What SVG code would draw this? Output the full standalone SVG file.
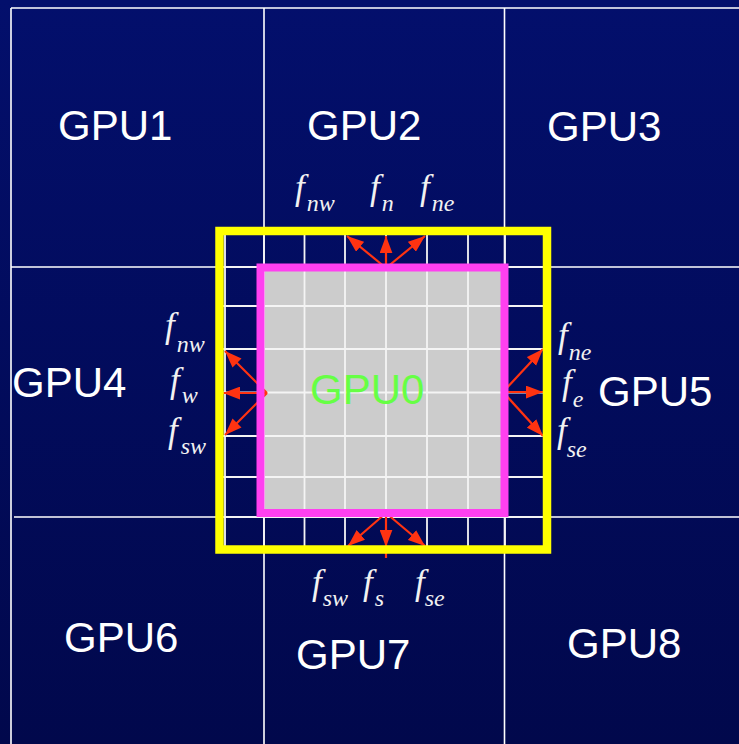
<svg xmlns="http://www.w3.org/2000/svg" width="739" height="744" viewBox="0 0 739 744">
<defs>
  <linearGradient id="bg" x1="0" y1="0" x2="0" y2="1">
    <stop offset="0" stop-color="#030f6c"/>
    <stop offset="1" stop-color="#01084c"/>
  </linearGradient>
  <marker id="ah" viewBox="0 0 16 12" refX="16" refY="6" markerWidth="17" markerHeight="13" markerUnits="userSpaceOnUse" orient="auto">
    <path d="M0,0 L16,6 L0,12 Z" fill="#ff3311"/>
  </marker>
  <style>
    .div{stroke:#ffffff;stroke-width:1.6;fill:none}
    .grid{stroke:#f4f4f4;stroke-width:1.8;fill:none}
    .arr{stroke:#ff3311;stroke-width:2.2;fill:none;marker-end:url(#ah)}
    .tail{stroke:#ff3311;stroke-width:2.2;fill:none}
    .gpu{font-family:"Liberation Sans",Arial,sans-serif;font-size:42px;fill:#ffffff}
    .f{font-family:"Liberation Serif","Times New Roman",serif;font-style:italic;font-size:35px;fill:#f2f2f2}
    .sub{font-size:24px}
  </style>
</defs>
<rect x="0" y="0" width="739" height="744" fill="url(#bg)"/>

<g id="dividers">
  <path class="div" d="M11,8 H739 M11,8 V744 M264,8 V744 M504.5,8 V744 M11,267 H739 M14,517 H739"/>
</g>

<g id="gpu0">
  <rect x="264" y="271" width="237" height="238" fill="#cccccc"/>
</g>

<g id="halo-grid">
  <path class="grid" d="M225,231 V550 M264,231 V550 M304.5,231 V550 M345,231 V550 M386,231 V550 M427,231 V550 M468,231 V550 M505,231 V550
                        M220,267 H547 M220,306 H547 M220,349 H547 M220,392.5 H547 M220,436 H547 M220,477 H547 M220,517 H547"/>
</g>

<g id="connectors">
  <path class="arr" d="M386,268 L347,236"/>
  <path class="arr" d="M386,268 L386,236"/>
  <path class="arr" d="M386,268 L425,236"/>
  <path class="arr" d="M386,513 L348,546"/>
  <path class="arr" d="M386,513 L386,547"/>
  <path class="tail" d="M386,546 L386,558"/>
  <path class="arr" d="M386,513 L425,546"/>
  <path class="arr" d="M267,393 L225,351"/>
  <path class="arr" d="M267,393 L223,393"/>
  <path class="arr" d="M267,393 L225,435"/>
  <path class="arr" d="M503,392 L543,349"/>
  <path class="arr" d="M503,392 L543,392"/>
  <path class="arr" d="M503,392 L543,436"/>
</g>

<g id="gpu0-border">
  <rect x="260.5" y="267.5" width="244" height="245.5" fill="none" stroke="#ff40f0" stroke-width="8"/>
  <text class="gpu" x="310" y="404" style="fill:#66ff44">GPU0</text>
</g>

<g id="halo-border">
  <rect x="219.5" y="231" width="327.5" height="318.5" fill="none" stroke="#ffff00" stroke-width="8.5"/>
</g>

<g id="gpu1"><text class="gpu" x="58" y="140">GPU1</text></g>
<g id="gpu2"><text class="gpu" x="307" y="140">GPU2</text></g>
<g id="gpu3"><text class="gpu" x="547" y="141">GPU3</text></g>
<g id="gpu4"><text class="gpu" x="12" y="397">GPU4</text></g>
<g id="gpu5"><text class="gpu" x="598" y="406">GPU5</text></g>
<g id="gpu6"><text class="gpu" x="64" y="652">GPU6</text></g>
<g id="gpu7"><text class="gpu" x="296" y="669">GPU7</text></g>
<g id="gpu8"><text class="gpu" x="567" y="658">GPU8</text></g>

<g id="flux-labels">
  <text class="f" x="295" y="199">f<tspan class="sub" dx="2" dy="11.5">nw</tspan></text>
  <text class="f" x="370" y="199">f<tspan class="sub" dx="2" dy="11.5">n</tspan></text>
  <text class="f" x="420" y="199">f<tspan class="sub" dx="2" dy="11.5">ne</tspan></text>

  <text class="f" x="165" y="337">f<tspan class="sub" dx="2" dy="14.5">nw</tspan></text>
  <text class="f" x="170" y="392">f<tspan class="sub" dx="2" dy="11">w</tspan></text>
  <text class="f" x="168" y="442">f<tspan class="sub" dx="3" dy="11.5">sw</tspan></text>

  <text class="f" x="558" y="347">f<tspan class="sub" dx="1" dy="12.5">ne</tspan></text>
  <text class="f" x="562" y="394">f<tspan class="sub" dx="1" dy="12.5">e</tspan></text>
  <text class="f" x="557" y="442">f<tspan class="sub" dx="0" dy="14.5">se</tspan></text>

  <text class="f" x="312" y="594">f<tspan class="sub" dx="1" dy="11.5">sw</tspan></text>
  <text class="f" x="363" y="594">f<tspan class="sub" dx="2" dy="11.5">s</tspan></text>
  <text class="f" x="415" y="594">f<tspan class="sub" dx="0" dy="11.5">se</tspan></text>
</g>
</svg>
